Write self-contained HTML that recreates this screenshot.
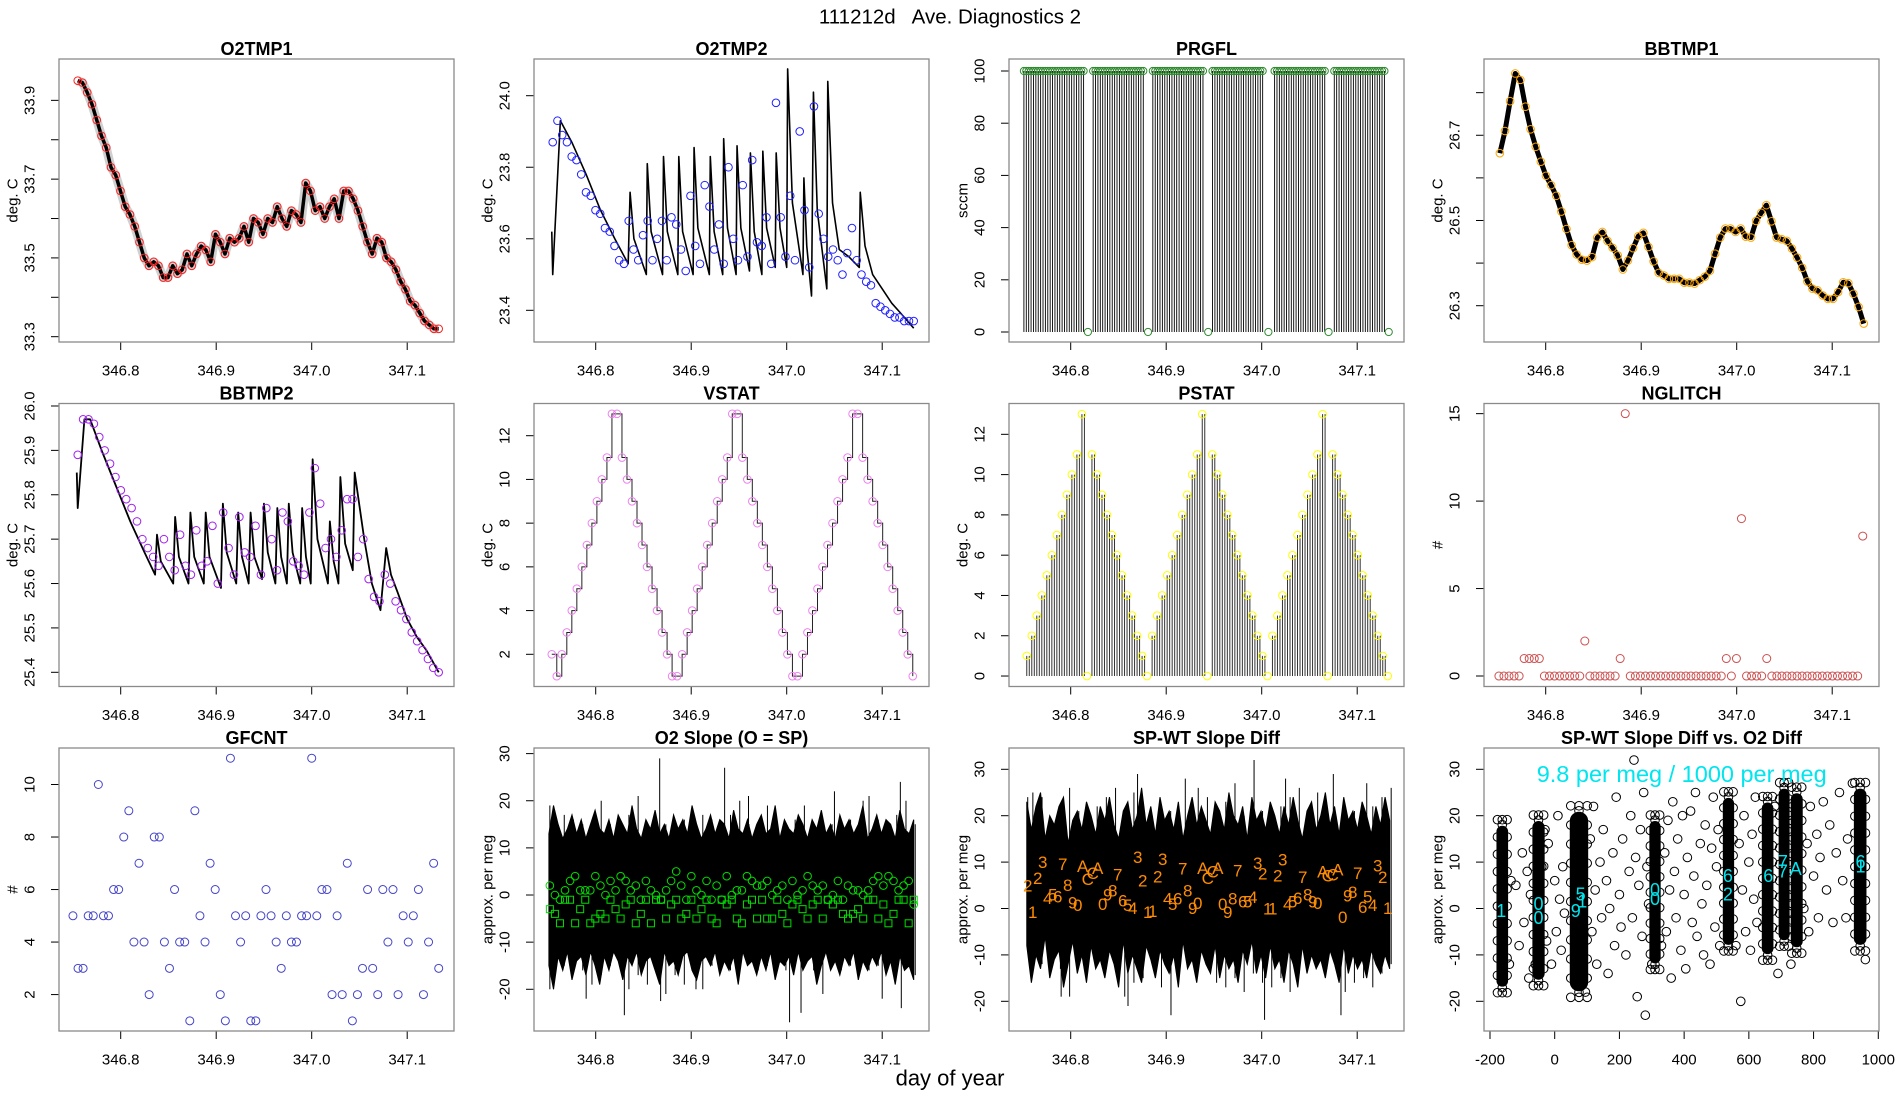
<!DOCTYPE html>
<html><head><meta charset="utf-8"><style>
html,body{margin:0;padding:0;background:#fff;}
svg{display:block;font-family:"Liberation Sans",Arial,sans-serif;}
</style></head><body>
<svg id="fig" width="1900" height="1100" viewBox="0 0 1900 1100" xmlns="http://www.w3.org/2000/svg">
<rect x="0" y="0" width="1900" height="1100" fill="#fff"/>
<text x="950" y="17" font-size="20.5" text-anchor="middle" dominant-baseline="central" xml:space="preserve">111212d   Ave. Diagnostics 2</text>
<text x="950" y="1078" font-size="22" text-anchor="middle" dominant-baseline="central">day of year</text>
</svg>
<script>
// ---------- data ----------
const timeTicks=[346.8,346.9,347.0,347.1];
const timeTickLabels=["346.8","346.9","347.0","347.1"];

const o2tmp1Vals=[33.95,33.945,33.92,33.89,33.85,33.81,33.78,33.73,33.71,33.67,
33.63,33.61,33.58,33.54,33.50,33.48,33.49,33.48,33.45,33.45,
33.48,33.46,33.47,33.51,33.48,33.51,33.53,33.52,33.49,33.56,
33.54,33.51,33.55,33.54,33.55,33.58,33.54,33.60,33.59,33.56,
33.60,33.59,33.63,33.60,33.58,33.62,33.61,33.59,33.69,33.67,
33.62,33.63,33.60,33.63,33.65,33.60,33.67,33.67,33.65,33.62,
33.58,33.54,33.51,33.55,33.54,33.50,33.49,33.47,33.44,33.42,
33.39,33.38,33.36,33.34,33.33,33.32,33.32];

const o2tmp2LineT=[346.754,346.755,346.763,346.775,346.79,346.805,346.82,346.834,
346.836,346.840,346.853, 346.854,346.858,346.870, 346.871,346.875,346.886, 346.887,346.891,346.902, 346.903,346.907,346.919, 346.920,346.924,346.933, 346.934,346.938,346.947, 346.948,346.952,346.961, 346.962,346.966,346.974, 346.975,346.979,346.988, 346.989,346.993,347.000, 347.001,347.006,347.017, 347.018,347.021,347.026, 347.028,347.032,347.042,
347.043,347.048,347.055,347.065,347.076, 347.077,347.082,347.09,347.10,347.11,347.12,347.133];
const o2tmp2LineV=[23.62,23.50,23.93,23.87,23.78,23.68,23.60,23.53,
23.73,23.60,23.50, 23.81,23.62,23.50, 23.83,23.62,23.50, 23.83,23.62,23.50, 23.855,23.63,23.50, 23.83,23.62,23.50, 23.88,23.63,23.50, 23.86,23.63,23.51, 23.84,23.62,23.50, 23.845,23.63,23.52, 23.84,23.63,23.52, 24.075,23.70,23.50, 23.77,23.58,23.44, 24.01,23.68,23.46,
24.04,23.70,23.57,23.55,23.52, 23.73,23.58,23.50,23.46,23.42,23.39,23.35];
const o2tmp2Pts=[23.87,23.93,23.89,23.87,23.83,23.82,23.78,23.73,23.72,23.68,
23.67,23.63,23.62,23.58,23.54,23.53,23.65,23.57,23.54,23.61,
23.65,23.54,23.60,23.65,23.54,23.66,23.64,23.57,23.51,23.72,
23.58,23.53,23.75,23.69,23.57,23.64,23.53,23.80,23.60,23.54,
23.75,23.55,23.82,23.59,23.58,23.66,23.53,23.98,23.66,23.55,
23.72,23.54,23.90,23.68,23.52,23.97,23.67,23.60,23.55,23.57,
23.54,23.50,23.56,23.63,23.54,23.50,23.48,23.47,23.42,23.41,
23.40,23.39,23.38,23.38,23.37,23.37,23.37];

const prgflOn=100;
const prgflOffTimes=[346.818,346.881,346.944,347.007,347.070,347.133];

const bbtmp1Vals=[26.658,26.71,26.78,26.845,26.83,26.767,26.714,26.673,26.638,
26.605,26.583,26.558,26.521,26.48,26.442,26.42,26.408,26.406,26.414,
26.46,26.473,26.452,26.436,26.418,26.385,26.406,26.435,26.463,26.471,
26.438,26.404,26.377,26.371,26.363,26.363,26.363,26.354,26.354,26.352,
26.36,26.368,26.382,26.422,26.46,26.481,26.481,26.473,26.481,26.462,
26.46,26.499,26.518,26.536,26.498,26.46,26.456,26.452,26.434,26.413,
26.389,26.357,26.34,26.336,26.324,26.316,26.316,26.332,26.355,26.353,
26.328,26.297,26.258];

const bbtmp2LineT=[346.754,346.755,346.762,346.768,346.78,346.795,346.81,346.825,346.836,
346.838,346.842,346.855, 346.857,346.861,346.871, 346.873,346.877,346.887, 346.889,346.893,346.905, 346.907,346.911,346.921, 346.923,346.927,346.934, 346.936,346.940,346.948, 346.95,346.954,346.962, 346.964,346.968,346.974, 346.976,346.980,346.988, 346.99,346.994,346.999, 347.001,347.006,347.017, 347.019,347.023,347.028, 347.03,347.035,347.043,
347.045,347.055,347.063,347.072,347.078,347.083,347.09,347.10,347.11,347.12,347.133];
const bbtmp2LineV=[25.85,25.77,25.97,25.97,25.90,25.82,25.74,25.67,25.62,
25.71,25.65,25.60, 25.75,25.66,25.60, 25.76,25.66,25.60, 25.76,25.66,25.59, 25.78,25.67,25.60, 25.76,25.66,25.60, 25.76,25.66,25.61, 25.78,25.67,25.60, 25.77,25.66,25.60, 25.78,25.67,25.60, 25.77,25.66,25.60, 25.88,25.70,25.60, 25.74,25.65,25.60, 25.84,25.69,25.63,
25.85,25.70,25.60,25.54,25.68,25.62,25.58,25.52,25.48,25.45,25.40];
const bbtmp2Pts=[25.89,25.97,25.97,25.96,25.93,25.90,25.87,25.84,25.81,25.79,
25.77,25.74,25.70,25.68,25.66,25.64,25.70,25.66,25.63,25.71,
25.64,25.62,25.72,25.64,25.65,25.73,25.60,25.76,25.68,25.62,
25.75,25.67,25.66,25.73,25.62,25.77,25.70,25.63,25.76,25.74,
25.65,25.64,25.62,25.76,25.86,25.78,25.68,25.70,25.66,25.72,
25.79,25.79,25.66,25.70,25.61,25.57,25.56,25.62,25.60,25.56,
25.54,25.52,25.49,25.47,25.45,25.43,25.41,25.40];

const vstatVals=[2,1,2,3,4,5,6,7,8,9,10,11,13,13,11,10,9,8,7,6,5,4,3,2,1,
1,2,3,4,5,6,7,8,9,10,11,13,13,11,10,9,8,7,6,5,4,3,2,1,
1,2,3,4,5,6,7,8,9,10,11,13,13,11,10,9,8,7,6,5,4,3,2,1];
const pstatVals=[1,2,3,4,5,6,7,8,9,10,11,13,0,11,10,9,8,7,6,5,4,3,2,1,0,
2,3,4,5,6,7,8,9,10,11,13,0,11,10,9,8,7,6,5,4,3,2,1,0,
2,3,4,5,6,7,8,9,10,11,13,0,11,10,9,8,7,6,5,4,3,2,1,0];
const nglitchVals=[0,0,0,0,0,1,1,1,1,0,0,0,0,0,0,0,0,2,0,0,0,0,0,0,1,15,
0,0,0,0,0,0,0,0,0,0,0,0,0,0,0,0,0,0,0,1,0,1,9,0,0,0,0,1,
0,0,0,0,0,0,0,0,0,0,0,0,0,0,0,0,0,0,8];
const gfcntVals=[5,3,3,5,5,10,5,5,6,6,8,9,4,7,4,2,8,8,4,3,
6,4,4,1,9,5,4,7,6,2,1,11,5,4,5,1,1,5,6,5,
4,3,5,4,4,5,5,11,5,6,6,2,5,2,7,1,2,3,6,3,
2,6,4,6,2,5,4,5,6,2,4,7,3];

const o2slopeHi=[13,19,15,12,14,17,13,16,12,15,18,14,13,16,12,17,15,13,19,14,12,16,14,18,13,15,12,17,14,16,13,19,15,12,14,17,13,16,15,12,18,14,13,16,12,15,17,13,14,19,12,16,14,13,17,15,12,16,14,18,13,15,12,17,14,16,13,15,19,12,14,17,13,16,15,12,18,14,13,16];
const o2slopeLo=[-15,-20,-13,-16,-12,-18,-14,-13,-17,-12,-15,-19,-13,-16,-12,-14,-18,-13,-15,-12,-17,-14,-13,-16,-19,-12,-15,-14,-17,-13,-12,-16,-18,-14,-13,-15,-12,-17,-14,-16,-13,-19,-12,-15,-14,-17,-13,-16,-12,-18,-14,-15,-13,-17,-12,-16,-14,-13,-19,-15,-12,-16,-14,-17,-13,-15,-12,-18,-14,-16,-13,-15,-12,-17,-14,-19,-13,-16,-15,-18];
const o2slopeSpikeT=[346.752,346.752,346.79,346.83,346.867,346.868,346.905,346.935,346.96,347.003,347.015,347.05,347.08,347.1,347.119,347.12];
const o2slopeSpikeV=[19,-20,-22,-25.5,29,-22.5,-20,27,21,-27,-25,22,20,-22,24,-24];
const o2slopeCircles=[2,0,-1,1,3,4,1,1,1,4,2,0,3,1,4,3,1,2,-1,3,1,0,-1,1,3,5,2,-1,4,1,0,3,-1,2,-1,4,0,1,1,4,3,2,2,3,0,1,2,-1,3,0,1,4,2,1,2,-1,0,3,-1,2,1,1,0,1,3,4,2,4,3,1,2,3,-2];
const o2slopeSquares=[-3,-4,-6,-1,-1,-6,-3,-1,-6,-5,-4,-5,-1,-3,-5,-2,-1,-6,-4,-1,-6,-1,-1,-5,-2,-1,-5,-4,-1,-5,-3,-1,-5,-6,-1,-2,-1,-5,-6,-2,-1,-5,-1,-5,-5,-1,-4,-6,-2,-1,-3,-5,-2,-1,-5,-1,-2,-1,-4,-5,-4,-3,-5,-1,-1,-5,-2,-6,-4,-1,-1,-6,-1];

const spwtHi=[23,17,22,25,15,20,18,22,24,14,19,21,17,23,20,16,22,19,24,18,15,21,23,17,20,26,18,22,16,24,19,21,17,23,15,20,24,18,22,19,16,23,21,17,25,20,18,22,15,24,19,21,17,23,20,16,22,18,24,19,15,21,23,17,20,25,18,22,16,24,19,21,17,23,20,16,22,18,24,19];
const spwtLo=[-8,-16,-10,-13,-6,-15,-11,-9,-17,-12,-7,-14,-10,-16,-8,-13,-11,-15,-9,-12,-17,-7,-14,-10,-13,-16,-8,-11,-15,-9,-12,-14,-10,-17,-7,-13,-11,-16,-9,-12,-14,-8,-15,-10,-13,-11,-16,-9,-12,-7,-14,-10,-15,-8,-13,-11,-16,-9,-12,-17,-8,-14,-10,-13,-11,-15,-9,-12,-16,-8,-14,-10,-13,-11,-15,-9,-12,-14,-10,-13];
const spwtSpikeT=[346.755,346.79,346.86,346.87,346.905,346.92,346.992,347.003,347.025,347.075,347.083,347.11];
const spwtSpikeV=[24,-19,-21,29,-23,28,32,-24,28,29,-23,27];
const spwtLabels=["2","1","2","3","4","5","6","7","8","9","0","A","C","C","A","0","9","8","7","6","5","4","3","2","1","1","2","3","4","5","6","7","8","9","0","A","C","C","A","0","9","8","7","6","5","4","3","2","1","1","2","3","4","5","6","7","8","9","0","A","C","C","A","0","9","8","7","6","5","4","3","2","1"];
const spwtLabelVals=[4.9,-0.9,6.5,9.9,2.2,2.9,2.5,9.5,5.0,1.2,0.7,9.1,6.2,7.5,8.6,0.9,2.9,3.8,7.2,1.6,0.7,0,11,5.9,-0.9,-0.7,6.8,10.6,2.0,0.9,2.0,8.5,3.8,0,1.1,8.6,6.5,7.9,8.6,0.9,-0.9,2.0,8.1,1.4,1.4,2.4,9.7,7.4,-0.1,-0.1,7.0,10.4,0.9,1.4,2.2,6.7,2.9,1.4,1.1,7.9,7.0,7.2,8.3,-1.9,2.7,3.4,7.5,0.2,2.5,0.6,9.2,6.7,0];

const scatterTicks=[-200,0,200,400,600,800,1000];
const scatterTickLabels=["-200","0","200","400","600","800","1000"];
const clusterX=[-162,-50,75,310,537,658,709,748,944];
const clusterW=[36,38,57,35,35,36,34,37,39];
const clusterHi=[20,21,23,21,26,25,28,27,28];
const clusterLo=[-19,-17.5,-20,-14,-10,-12,-9,-10.5,-10];
const scatterX=[-120,-110,-100,-95,-85,-80,-75,-20,-10,0,5,10,15,20,25,30,-30,-25,110,115,120,125,130,140,145,150,160,165,170,180,185,190,200,205,210,220,230,235,240,245,250,255,260,265,270,275,280,285,290,300,340,345,350,355,360,365,370,375,380,390,395,400,405,410,420,425,430,435,440,450,455,460,465,470,480,485,490,495,500,505,510,570,575,580,585,590,600,605,610,615,620,625,780,785,790,800,810,815,820,830,840,850,860,870,880,890,900,905,-140,-135,-60,-40,95,330,560,690,730,680,770,960,920];
const scatterY=[5,-8,12,-3,8,-15,3,14,-12,6,-5,20,2,-9,9,-1,17,-7,15,-5,22,4,-12,10,-2,17,6,-14,0,12,-8,24,3,-4,15,-10,8,20,-2,32,11,-19,5,17,-6,25,-23,9,1,-12,12,-5,19,4,-15,23,8,-2,15,-9,20,3,-13,11,21,-3,7,25,-6,14,1,-10,18,5,-12,13,24,-4,9,17,-8,14,-20,4,20,-5,10,-9,16,2,24,-3,14,-5,22,7,16,-2,11,23,4,18,-3,12,25,6,-2,15,-12,6,-12,9,-18,-8,-8,-14,-12,22,0,-11,27];
const cyanLabX=[-165,-50,-50,65,80,85,310,310,535,535,660,705,705,745,945,945];
const cyanLabY=[-0.5,1,-2,-0.5,3,1.5,4,2,3,7,7,10,8,8.5,10,9];
const cyanLabT=["1","0","0","9","5","1","0","0","2","6","6","7","7","A","6","1"];

// ---------- helpers ----------
const NS="http://www.w3.org/2000/svg";
const svg=document.getElementById('fig');
function el(tag,attrs,parent){const e=document.createElementNS(NS,tag);for(const k in attrs)e.setAttribute(k,attrs[k]);(parent||svg).appendChild(e);return e;}
const colLeft=[59,534,1009,1484], rowTop=[59,403.5,748], PW=395, PH=283;
const tMin=346.8-61.7/955, tMax=tMin+PW/955;
function linspace(a,b,n){const r=[];for(let i=0;i<n;i++)r.push(n===1?a:a+(b-a)*i/(n-1));return r;}

function panel(o){
  const L=colLeft[o.col],T=rowTop[o.row],R=L+PW,B=T+PH;
  const g=el('g',{});
  
  
  const xMin=o.xMin??tMin, xMax=o.xMax??tMax;
  const X=v=>L+(v-xMin)/(xMax-xMin)*PW;
  const Y=v=>B-(v-o.yMin)/(o.yMax-o.yMin)*PH;
  const plot=el('g',{},g);
  
  
  const clipId='clip-'+o.name;
  const cp=el('clipPath',{id:clipId},g);el('rect',{x:L,y:T,width:PW,height:PH},cp);
  plot.setAttribute('clip-path','url(#'+clipId+')');
  const ax=el('g',{stroke:'#000','stroke-width':1,fill:'none'},g);
  
  
  const xt=o.xTicks||timeTicks, xl=o.xLabels||timeTickLabels;
  el('line',{x1:X(xt[0]),y1:B,x2:X(xt[xt.length-1]),y2:B},ax);
  xt.forEach((v,i)=>{el('line',{x1:X(v),y1:B,x2:X(v),y2:B+8},ax);
    const t=el('text',{x:X(v),y:B+29,'font-size':15,'text-anchor':'middle','dominant-baseline':'central',fill:'#000',stroke:'none'},g);
    
    
    t.textContent=xl[i];});
  el('line',{x1:L,y1:Y(o.yTicks[0]),x2:L,y2:Y(o.yTicks[o.yTicks.length-1])},ax);
  o.yTicks.forEach((v,i)=>{el('line',{x1:L-8,y1:Y(v),x2:L,y2:Y(v)},ax);
    if(o.yLabels[i]!==''){const x=L-29,y=Y(v);
      const t=el('text',{x:x,y:y,'font-size':15,'text-anchor':'middle','dominant-baseline':'central',transform:`rotate(-90 ${x} ${y})`,fill:'#000',stroke:'none'},g);
      
      
      t.textContent=o.yLabels[i];}});
  const yx=L-46,yy=T+PH/2;
  const yl=el('text',{x:yx,y:yy,'font-size':15,'text-anchor':'middle','dominant-baseline':'central',transform:`rotate(-90 ${yx} ${yy})`},g);
  
  
  yl.textContent=o.ylab;
  const tt=el('text',{x:L+PW/2,y:T-10,'font-size':18,'font-weight':'bold','text-anchor':'middle','dominant-baseline':'central'},g);
  
  
  tt.textContent=o.title;
  const box=el('rect',{x:L,y:T,width:PW,height:PH,fill:'none',stroke:'#8a8a8a','stroke-width':1.3},g);
  
  
  return {X,Y,plot,L,T,R,B};
}
function polyline(p,xs,ys,attrs,name){
  const d=xs.map((x,i)=>(i?'L':'M')+p.X(x).toFixed(2)+' '+p.Y(ys[i]).toFixed(2)).join('');
  const e=el('path',Object.assign({d:d,fill:'none','stroke-linejoin':'round'},attrs),p.plot);
  
  
  return e;
}
function circles(p,xs,ys,color,r,name){
  const g=el('g',{fill:'none',stroke:color,'stroke-width':1},p.plot);
  
  
  xs.forEach((x,i)=>{const c=el('circle',{cx:p.X(x),cy:p.Y(ys[i]),r:r},g);
    
    });
}
function stepPath(p,xs,ys,attrs,name){
  let d='';xs.forEach((x,i)=>{const px=p.X(x),py=p.Y(ys[i]);
    if(i===0)d+='M'+px+' '+py;else d+='H'+px+'V'+py;});
  const e=el('path',Object.assign({d:d,fill:'none'},attrs),p.plot);
  
  
}
function band(p,hi,lo,t0,t1,name){
  const ts=linspace(t0,t1,hi.length);
  let d='';ts.forEach((t,i)=>{d+=(i?'L':'M')+p.X(t).toFixed(2)+' '+p.Y(hi[i]).toFixed(2);});
  for(let i=ts.length-1;i>=0;i--)d+='L'+p.X(ts[i]).toFixed(2)+' '+p.Y(lo[i]).toFixed(2);
  const e=el('path',{d:d+'Z',fill:'#000',stroke:'#000','stroke-width':1},p.plot);
  
  
  const g=el('g',{stroke:'#000','stroke-width':1},p.plot);
  
  
  ts.forEach((t,i)=>{if(i%2===0)return;const x=p.X(t)+1.5;
    el('line',{x1:x,y1:p.Y(hi[i-1]+2),x2:x,y2:p.Y(lo[i-1]-2)},g);});
}
function spikes(p,ts,vs,name){
  const g=el('g',{stroke:'#000','stroke-width':1},p.plot);
  
  
  ts.forEach((t,i)=>el('line',{x1:p.X(t),y1:p.Y(0),x2:p.X(t),y2:p.Y(vs[i])},g));
}

// ---------- panels ----------
{ const p=panel({name:'o2tmp1',col:0,row:0,title:'O2TMP1',ylab:'deg. C',yMin:33.2865,yMax:34.005,
  yTicks:[33.3,33.4,33.5,33.6,33.7,33.8,33.9],yLabels:['33.3','','33.5','','33.7','','33.9']});
  const ts=linspace(346.755,347.133,o2tmp1Vals.length);
  polyline(p,ts,o2tmp1Vals,{stroke:'#444','stroke-width':9,'stroke-opacity':0.25},'o2tmp1-noise');
  polyline(p,ts,o2tmp1Vals,{stroke:'#000','stroke-width':3.5},'o2tmp1-line');
  circles(p,ts,o2tmp1Vals,'#ff2020',3.8,'o2tmp1-points'); }

{ const p=panel({name:'o2tmp2',col:1,row:0,title:'O2TMP2',ylab:'deg. C',yMin:23.3114,yMax:24.1026,
  yTicks:[23.4,23.6,23.8,24.0],yLabels:['23.4','23.6','23.8','24.0']});
  polyline(p,o2tmp2LineT,o2tmp2LineV,{stroke:'#000','stroke-width':1.6},'o2tmp2-line');
  circles(p,linspace(346.755,347.133,o2tmp2Pts.length),o2tmp2Pts,'#2020ff',3.8,'o2tmp2-points'); }

{ const p=panel({name:'prgfl',col:2,row:0,title:'PRGFL',ylab:'sccm',yMin:-3.83,yMax:104.6,
  yTicks:[0,20,40,60,80,100],yLabels:['0','20','40','60','80','100']});
  const ts=[];for(let t=346.751;t<=347.131;t+=0.0025){if(prgflOffTimes.every(o=>Math.abs(o-t)>0.004))ts.push(t);}
  const g=el('g',{stroke:'#000','stroke-width':0.9},p.plot);
  
  
  ts.forEach(t=>el('line',{x1:p.X(t),y1:p.Y(0),x2:p.X(t),y2:p.Y(prgflOn)},g));
  circles(p,ts,ts.map(()=>prgflOn),'#2e8b2e',3.6,'prgfl-on-points');
  circles(p,prgflOffTimes,prgflOffTimes.map(()=>0),'#2e8b2e',3.6,'prgfl-off-points'); }

{ const p=panel({name:'bbtmp1',col:3,row:0,title:'BBTMP1',ylab:'deg. C',yMin:26.2148,yMax:26.879,
  yTicks:[26.3,26.4,26.5,26.6,26.7,26.8],yLabels:['26.3','','26.5','','26.7','']});
  const ts=linspace(346.752,347.133,bbtmp1Vals.length);
  polyline(p,ts,bbtmp1Vals,{stroke:'#000','stroke-width':5},'bbtmp1-line');
  circles(p,ts,bbtmp1Vals,'#ffa500',3.8,'bbtmp1-points'); }

{ const p=panel({name:'bbtmp2',col:0,row:1,title:'BBTMP2',ylab:'deg. C',yMin:25.368,yMax:26.0056,
  yTicks:[25.4,25.5,25.6,25.7,25.8,25.9,26.0],yLabels:['25.4','25.5','25.6','25.7','25.8','25.9','26.0']});
  polyline(p,bbtmp2LineT,bbtmp2LineV,{stroke:'#000','stroke-width':1.8},'bbtmp2-line');
  circles(p,linspace(346.755,347.133,bbtmp2Pts.length),bbtmp2Pts,'#a020f0',3.8,'bbtmp2-points'); }

{ const p=panel({name:'vstat',col:1,row:1,title:'VSTAT',ylab:'deg. C',yMin:0.527,yMax:13.473,
  yTicks:[2,4,6,8,10,12],yLabels:['2','4','6','8','10','12']});
  const ts=linspace(346.754,347.132,vstatVals.length);
  stepPath(p,ts,vstatVals,{stroke:'#222','stroke-width':1},'vstat-step-line');
  circles(p,ts,vstatVals,'#ee82ee',3.8,'vstat-points'); }

{ const p=panel({name:'pstat',col:2,row:1,title:'PSTAT',ylab:'deg. C',yMin:-0.52,yMax:13.53,
  yTicks:[0,2,4,6,8,10,12],yLabels:['0','2','4','6','8','10','12']});
  const ts=linspace(346.754,347.132,pstatVals.length);
  const dt=ts[1]-ts[0];
  const g=el('g',{stroke:'#333','stroke-width':1},p.plot);
  
  
  ts.forEach((t,i)=>{const v=pstatVals[i];if(v<=0)return;
    [0,0.5].forEach(f=>el('line',{x1:p.X(t+f*dt),y1:p.Y(0),x2:p.X(t+f*dt),y2:p.Y(v)},g));});
  circles(p,ts,pstatVals,'#ffff00',3.8,'pstat-points'); }

{ const p=panel({name:'nglitch',col:3,row:1,title:'NGLITCH',ylab:'#',yMin:-0.6,yMax:15.58,
  yTicks:[0,5,10,15],yLabels:['0','5','10','15']});
  circles(p,linspace(346.751,347.132,nglitchVals.length),nglitchVals,'#cd5050',4,'nglitch-points'); }

{ const p=panel({name:'gfcnt',col:0,row:2,title:'GFCNT',ylab:'#',yMin:0.613,yMax:11.39,
  yTicks:[2,4,6,8,10],yLabels:['2','4','6','8','10']});
  circles(p,linspace(346.75,347.133,gfcntVals.length),gfcntVals,'#4545c8',4,'gfcnt-points'); }

{ const p=panel({name:'o2slope',col:1,row:2,title:'O2 Slope (O = SP)',ylab:'approx. per meg',yMin:-28.85,yMax:31.19,
  yTicks:[-20,-10,0,10,20,30],yLabels:['-20','-10','0','10','20','30']});
  band(p,o2slopeHi,o2slopeLo,346.751,347.133,'o2slope-noise-band');
  spikes(p,o2slopeSpikeT,o2slopeSpikeV,'o2slope-spikes');
  const ts=linspace(346.752,347.133,o2slopeCircles.length);
  circles(p,ts,o2slopeCircles,'#00dd00',3.8,'o2slope-circles');
  const ts2=linspace(346.752,347.133,o2slopeSquares.length);
  const g=el('g',{fill:'none',stroke:'#00dd00','stroke-width':1},p.plot);
  
  
  ts2.forEach((t,i)=>{const r=el('rect',{x:p.X(t)-3.5,y:p.Y(o2slopeSquares[i])-3.5,width:7,height:7},g);
    
    }); }

{ const p=panel({name:'spwt',col:2,row:2,title:'SP-WT Slope Diff',ylab:'approx. per meg',yMin:-26.4,yMax:34.59,
  yTicks:[-20,-10,0,10,20,30],yLabels:['-20','-10','0','10','20','30']});
  band(p,spwtHi,spwtLo,346.754,347.134,'spwt-noise-band');
  spikes(p,spwtSpikeT,spwtSpikeV,'spwt-spikes');
  const ts=linspace(346.755,347.132,spwtLabels.length);
  const g=el('g',{fill:'#ff8c00','font-size':17,'text-anchor':'middle','dominant-baseline':'central'},p.plot);
  
  
  ts.forEach((t,i)=>{const tx=el('text',{x:p.X(t),y:p.Y(spwtLabelVals[i])},g);
    
    
    tx.textContent=spwtLabels[i];}); }

{ const p=panel({name:'scatter',col:3,row:2,title:'SP-WT Slope Diff vs. O2 Diff',ylab:'approx. per meg',yMin:-26.4,yMax:34.59,
  xMin:-218.5,xMax:1002.2,xTicks:scatterTicks,xLabels:scatterTickLabels,
  yTicks:[-20,-10,0,10,20,30],yLabels:['-20','-10','0','10','20','30']});
  circles(p,scatterX,scatterY,'#000',4.3,'scatter-points');
  const g=el('g',{},p.plot);
  
  
  clusterX.forEach((cx,i)=>{
    const x0=p.X(cx-clusterW[i]/2),x1=p.X(cx+clusterW[i]/2);
    const yTop=p.Y(clusterHi[i]),yBot=p.Y(clusterLo[i]);
    const r=el('rect',{x:x0,y:yTop+10,width:x1-x0,height:yBot-yTop-20,rx:(x1-x0)/2,fill:'#000'},g);
    
    
    for(let k=0;k<=10;k++){const yy=yTop+4+k*((yBot-yTop-8)/10);
      [x0+1,x1-1].forEach(xx=>el('circle',{cx:xx,cy:yy,r:4.3,fill:'none',stroke:'#000','stroke-width':1},g));}
    [yTop+4,yTop+9,yBot-9,yBot-4].forEach(yy=>el('circle',{cx:(x0+x1)/2,cy:yy,r:4.3,fill:'none',stroke:'#000','stroke-width':1},g));
  });
  const lg=el('g',{fill:'#00e5ee','font-size':18,'text-anchor':'middle','dominant-baseline':'central'},p.plot);
  
  
  cyanLabX.forEach((x,i)=>{const t=el('text',{x:p.X(x),y:p.Y(cyanLabY[i])},lg);
    
    
    t.textContent=cyanLabT[i];});
  const ann=el('text',{x:1681.7,y:774,fill:'#00e5ee','font-size':23.5,'text-anchor':'middle','dominant-baseline':'central'},p.plot);
  
  
  ann.textContent='9.8 per meg / 1000 per meg'; }
</script>
</body></html>
